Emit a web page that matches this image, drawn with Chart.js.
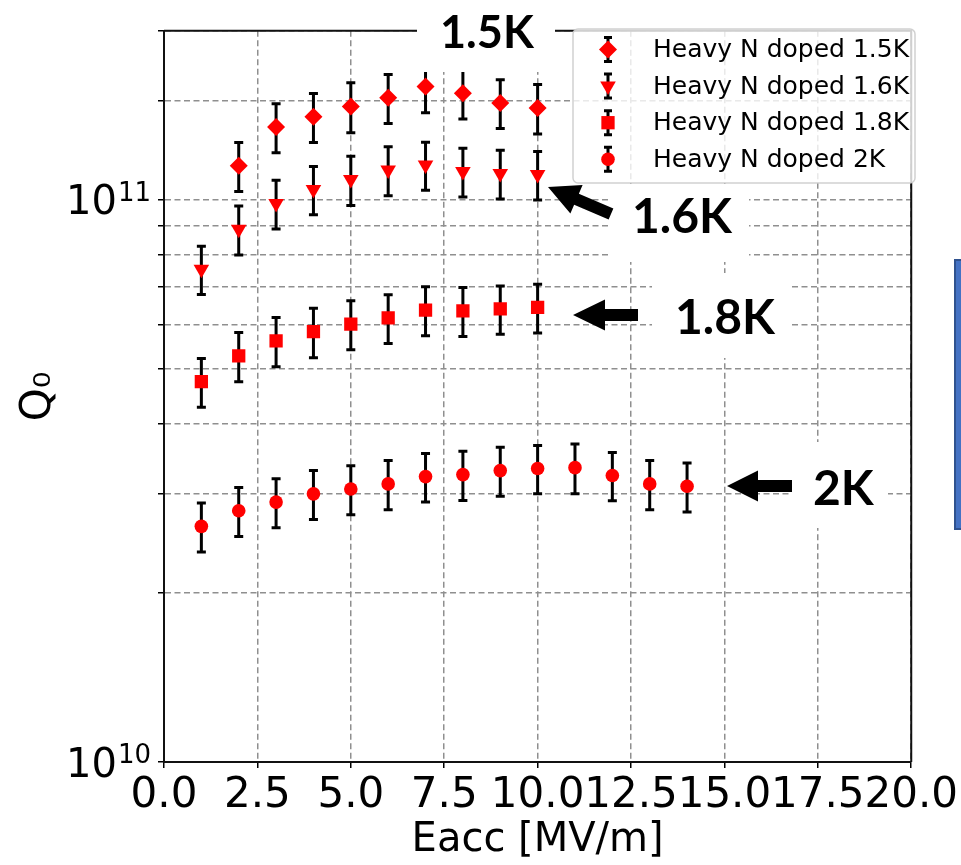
<!DOCTYPE html>
<html>
<head>
<meta charset="utf-8">
<script src="https://cdn.jsdelivr.net/npm/chart.js@4.4.1/dist/chart.umd.min.js"></script>
<style>
  html, body { margin: 0; padding: 0; background: #fff; }
  canvas { display: block; }
</style>
</head>
<body>
<canvas id="chart" width="961" height="865"></canvas>
<script>
// ---- data ----
const seriesLabels = ['Heavy N doped 1.5K', 'Heavy N doped 1.6K', 'Heavy N doped 1.8K', 'Heavy N doped 2K'];

const eacc15 = [2, 3, 4, 5, 6, 7, 8, 9, 10];
const q15    = [1.150e11, 1.348e11, 1.406e11, 1.467e11, 1.520e11, 1.592e11, 1.549e11, 1.488e11, 1.458e11];
const err15  = [0.115e11, 0.135e11, 0.141e11, 0.150e11, 0.152e11, 0.163e11, 0.155e11, 0.148e11, 0.147e11];

const eacc16 = [1, 2, 3, 4, 5, 6, 7, 8, 9, 10];
const q16    = [7.53e10, 8.87e10, 9.86e10, 1.044e11, 1.087e11, 1.131e11, 1.154e11, 1.124e11, 1.115e11, 1.110e11];
const err16  = [0.74e10, 0.89e10, 0.98e10, 1.03e10, 1.09e10, 1.13e10, 1.13e10, 1.12e10, 1.11e10, 1.10e10];

const eacc18 = [1, 2, 3, 4, 5, 6, 7, 8, 9, 10];
const q18    = [4.75e10, 5.28e10, 5.615e10, 5.83e10, 6.015e10, 6.168e10, 6.37e10, 6.35e10, 6.40e10, 6.44e10];
const err18  = [0.474e10, 0.531e10, 0.564e10, 0.588e10, 0.600e10, 0.612e10, 0.635e10, 0.636e10, 0.630e10, 0.643e10];

const eacc20 = [1, 2, 3, 4, 5, 6, 7, 8, 9, 10, 11, 12, 13, 14];
const q20    = [2.626e10, 2.80e10, 2.90e10, 3.00e10, 3.06e10, 3.125e10, 3.22e10, 3.246e10, 3.30e10, 3.328e10, 3.34e10, 3.235e10, 3.125e10, 3.095e10];
const err20  = [0.263e10, 0.28e10, 0.29e10, 0.30e10, 0.307e10, 0.314e10, 0.32e10, 0.326e10, 0.33e10, 0.328e10, 0.34e10, 0.32e10, 0.314e10, 0.31e10];

const xTickLabels = ['0.0', '2.5', '5.0', '7.5', '10.0', '12.5', '15.0', '17.5', '20.0'];
const yTickValues = [1e10, 1e11];
const yTickExponents = ['10', '11'];

const RED = '#ff0000';
const toPoints = (xs, ys) => xs.map((v, i) => ({ x: v, y: ys[i] }));

// ---- error bars (drawn under the markers) ----
const errorBarPlugin = {
  id: 'errorBars',
  beforeDatasetsDraw(chart) {
    const { ctx, scales: { x, y } } = chart;
    ctx.save();
    ctx.strokeStyle = '#000';
    ctx.lineWidth = 3;
    chart.data.datasets.forEach(ds => {
      ds.data.forEach((p, j) => {
        const e = ds.errors[j];
        const px = x.getPixelForValue(p.x);
        const top = y.getPixelForValue(p.y + e);
        const bot = y.getPixelForValue(p.y - e);
        ctx.beginPath();
        ctx.moveTo(px, top); ctx.lineTo(px, bot);
        ctx.moveTo(px - 4.5, top); ctx.lineTo(px + 4.5, top);
        ctx.moveTo(px - 4.5, bot); ctx.lineTo(px + 4.5, bot);
        ctx.stroke();
      });
    });
    ctx.restore();
  }
};

function drawArrow(ctx, tipX, tipY, tailX, tailY, headLen, headHalf, shaftHalf) {
  const ang = Math.atan2(tailY - tipY, tailX - tipX);
  const len = Math.hypot(tailX - tipX, tailY - tipY);
  ctx.save();
  ctx.translate(tipX, tipY);
  ctx.rotate(ang);
  ctx.beginPath();
  ctx.moveTo(0, 0);
  ctx.lineTo(headLen, -headHalf);
  ctx.lineTo(headLen, -shaftHalf);
  ctx.lineTo(len, -shaftHalf);
  ctx.lineTo(len, shaftHalf);
  ctx.lineTo(headLen, shaftHalf);
  ctx.lineTo(headLen, headHalf);
  ctx.closePath();
  ctx.fillStyle = '#000';
  ctx.fill();
  ctx.restore();
}

// ---- frame, power-of-ten labels, slide annotations, legend ----
const overlayPlugin = {
  id: 'overlay',
  afterDraw(chart) {
    const { ctx, chartArea: a, scales: { y } } = chart;
    ctx.save();

    // top / right spines
    ctx.strokeStyle = '#111';
    ctx.lineWidth = 2;
    ctx.beginPath();
    ctx.moveTo(a.left, a.top); ctx.lineTo(a.right, a.top); ctx.lineTo(a.right, a.bottom);
    ctx.stroke();

    // y tick labels 10^n with a raised exponent
    ctx.fillStyle = '#000';
    ctx.textBaseline = 'alphabetic';
    ctx.textAlign = 'left';
    const baseFont = '40px "DejaVu Sans"', expFont = '26px "DejaVu Sans"';
    yTickValues.forEach((v, i) => {
      const py = y.getPixelForValue(v);
      ctx.font = baseFont;
      const wBase = ctx.measureText('10').width;
      ctx.font = expFont;
      const wExp = ctx.measureText(yTickExponents[i]).width;
      const x0 = 151 - wExp - 1 - wBase;
      ctx.font = baseFont;
      ctx.fillText('10', x0, py + 14.5);
      ctx.font = expFont;
      ctx.fillText(yTickExponents[i], x0 + wBase + 1, py + 1);
    });

    // white label patches pasted over the plot
    ctx.fillStyle = '#fff';
    ctx.fillRect(417, 0, 138, 72);
    ctx.fillRect(610, 184, 139, 78);
    ctx.fillRect(652, 273, 140, 85);
    ctx.fillRect(792, 442, 96, 86);

    // arrows
    drawArrow(ctx, 548, 187, 611, 214, 31, 15.5, 6);
    drawArrow(ctx, 573, 315, 638, 315, 32, 15.5, 6);
    drawArrow(ctx, 727, 486, 792, 486, 31, 15.5, 6);

    // bold labels
    ctx.fillStyle = '#000';
    ctx.font = 'bold 45px Lato';
    ctx.fillText('1.5K', 440, 48);
    ctx.font = 'bold 48px Lato';
    ctx.fillText('1.6K', 632, 233);
    ctx.fillText('1.8K', 675, 334);
    ctx.fillText('2K', 813, 505);

    // legend
    const lx = 573, ly = 29, lw = 342, lh = 154, r = 5;
    ctx.beginPath();
    ctx.moveTo(lx + r, ly);
    ctx.arcTo(lx + lw, ly, lx + lw, ly + lh, r);
    ctx.arcTo(lx + lw, ly + lh, lx, ly + lh, r);
    ctx.arcTo(lx, ly + lh, lx, ly, r);
    ctx.arcTo(lx, ly, lx + lw, ly, r);
    ctx.closePath();
    ctx.fillStyle = 'rgba(255,255,255,0.8)';
    ctx.fill();
    ctx.strokeStyle = 'rgba(204,204,204,0.9)';
    ctx.lineWidth = 1.5;
    ctx.stroke();

    const rows = [49.5, 86, 122.7, 159.3];
    ctx.font = '25px "DejaVu Sans"';
    ctx.textBaseline = 'middle';
    chart.data.datasets.forEach((ds, i) => {
      const cy = rows[i];
      const mx = 608;
      ctx.strokeStyle = '#000';
      ctx.lineWidth = 3;
      ctx.beginPath();
      ctx.moveTo(mx, cy - 12); ctx.lineTo(mx, cy + 12);
      ctx.moveTo(mx - 4, cy - 12); ctx.lineTo(mx + 4, cy - 12);
      ctx.moveTo(mx - 4, cy + 12); ctx.lineTo(mx + 4, cy + 12);
      ctx.stroke();
      ctx.fillStyle = ds.pointBackgroundColor;
      Chart.helpers.drawPoint(ctx, {
        pointStyle: ds.pointStyle, radius: ds.pointRadius,
        rotation: ds.pointRotation || 0, borderWidth: 0
      }, mx, cy);
      ctx.fillStyle = '#000';
      ctx.fillText(ds.label, 653, cy + 1);
    });

    // blue shape cut off at the right edge of the slide
    ctx.fillStyle = '#4472C4';
    ctx.fillRect(954, 259, 10, 271);
    ctx.strokeStyle = '#2F528F';
    ctx.lineWidth = 2;
    ctx.strokeRect(955, 260, 10, 269);

    ctx.restore();
  }
};

Chart.defaults.font.family = '"DejaVu Sans"';
Chart.defaults.color = '#000';

const mk = (label, xs, ys, errs, style, radius, rotation) => ({
  label,
  data: toPoints(xs, ys),
  errors: errs,
  pointStyle: style,
  pointRadius: radius,
  pointHoverRadius: radius,
  pointRotation: rotation,
  pointBackgroundColor: RED,
  pointBorderWidth: 0,
  showLine: false
});

const gridOpts = {
  color: '#8f8f8f', lineWidth: 1.5,
  tickColor: '#000', tickLength: 6, tickWidth: 1.5, tickBorderDash: []
};

new Chart(document.getElementById('chart'), {
  type: 'scatter',
  data: {
    datasets: [
      mk(seriesLabels[0], eacc15, q15, err15, 'rectRot', 9, 0),
      mk(seriesLabels[1], eacc16, q16, err16, 'triangle', 9, 180),
      mk(seriesLabels[2], eacc18, q18, err18, 'rect', 9.4, 0),
      mk(seriesLabels[3], eacc20, q20, err20, 'circle', 6.8, 0)
    ]
  },
  options: {
    responsive: false,
    animation: false,
    devicePixelRatio: 1,
    layout: { padding: { top: 29, right: 46, left: 0, bottom: 0 } },
    plugins: { legend: { display: false }, tooltip: { enabled: false } },
    scales: {
      x: {
        type: 'linear', min: 0, max: 20,
        afterFit: s => { s.height = 103; },
        afterBuildTicks: s => { s.ticks = xTickLabels.map((_, i) => ({ value: i * 2.5 })); },
        ticks: {
          autoSkip: false, maxRotation: 0, padding: 3,
          font: { size: 42 },
          callback: (v, i) => xTickLabels[i]
        },
        grid: gridOpts,
        border: { color: '#111', width: 2, dash: [6, 3.5] },
        title: { display: true, text: 'Eacc [MV/m]', font: { size: 40 }, padding: { top: 10, bottom: 0 } }
      },
      y: {
        type: 'logarithmic', min: 1e10, max: 2e11,
        afterFit: s => { s.width = 164; },
        ticks: { autoSkip: false, padding: 8, font: { size: 38 }, callback: () => '' },
        grid: gridOpts,
        border: { color: '#111', width: 2, dash: [6, 3.5] },
        title: { display: true, text: 'Q₀', font: { size: 42 }, padding: { top: 14, bottom: 0 } }
      }
    }
  },
  plugins: [errorBarPlugin, overlayPlugin]
});
</script>
</body>
</html>
